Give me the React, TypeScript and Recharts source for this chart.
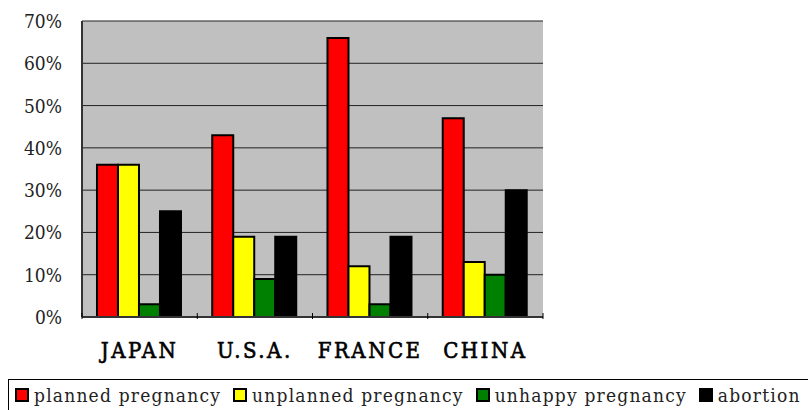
import { Bar, BarChart, CartesianGrid, XAxis, YAxis } from "recharts";

const countries = ["JAPAN", "U.S.A.", "FRANCE", "CHINA"];
const planned = [36, 43, 66, 47];
const unplanned = [36, 19, 12, 13];
const unhappy = [3, 9, 3, 10];
const abortion = [25, 19, 19, 30];
const yTicks = [0, 10, 20, 30, 40, 50, 60, 70];

const series = [
  { key: "planned", name: "planned pregnancy", color: "#ff0000" },
  { key: "unplanned", name: "unplanned pregnancy", color: "#ffff00" },
  { key: "unhappy", name: "unhappy pregnancy", color: "#008000" },
  { key: "abortion", name: "abortion", color: "#000000" },
];

const data = countries.map((c, i) => ({
  country: c,
  planned: planned[i],
  unplanned: unplanned[i],
  unhappy: unhappy[i],
  abortion: abortion[i],
}));

const serif = "'DejaVu Serif Condensed', 'DejaVu Serif', serif";

function CountryTick(props: any) {
  const { x, y, payload, index } = props;
  const off = payload.offset ?? 0;
  return (
    <g>
      <line x1={x - off} x2={x - off} y1={y - 6} y2={y} stroke="#000" />
      {index === countries.length - 1 && (
        <line x1={x + off} x2={x + off} y1={y - 6} y2={y} stroke="#000" />
      )}
      <text
        x={x}
        y={y + 39}
        textAnchor="middle"
        fontFamily={serif}
        fontSize={22}
        letterSpacing={2.5}
        stroke="#000"
        strokeWidth={0.6}
        fill="#000"
      >
        {payload.value}
      </text>
    </g>
  );
}

function PctTick(props: any) {
  const { x, y, payload } = props;
  return (
    <text x={x - 18} y={y + 7} textAnchor="end" fontFamily={serif} fontSize={19} fill="#222">
      {payload.value}%
    </text>
  );
}

function LegendBox() {
  return (
    <div
      style={{
        position: "absolute",
        left: 8,
        top: 379,
        width: 820,
        display: "flex",
        alignItems: "center",
        border: "1px solid #000",
        height: 34,
        boxSizing: "border-box",
        paddingLeft: 6,
        paddingBottom: 2,
        fontFamily: serif,
        fontSize: 19,
        letterSpacing: 1.2,
        color: "#222",
        whiteSpace: "nowrap",
      }}
    >
      {series.map((s) => (
        <span key={s.key} style={{ display: "flex", alignItems: "center", marginRight: 12 }}>
          <span
            style={{
              display: "inline-block",
              width: 10,
              height: 10,
              background: s.color,
              border: "2px solid #000",
              marginRight: 5,
            }}
          />
          {s.name}
        </span>
      ))}
    </div>
  );
}

export default function App() {
  return (
    <div style={{ position: "absolute", left: 0, top: 0, width: 808, height: 410, background: "#fff", overflow: "hidden" }}>
      <BarChart
        width={808}
        height={410}
        data={data}
        margin={{ top: 21, right: 265, bottom: 63, left: 0 }}
        barCategoryGap="13%"
        barGap={0}
      >
        <CartesianGrid vertical={false} fill="#c0c0c0" stroke="#222" />
        <XAxis
          dataKey="country"
          tickLine={false}
          tickSize={0}
          axisLine={{ stroke: "#333", strokeWidth: 2 }}
          tick={<CountryTick />}
          interval={0}
          height={30}
        />
        <YAxis
          width={82}
          domain={[0, 70]}
          ticks={yTicks}
          interval={0}
          tickLine={false}
          tickSize={0}
          axisLine={{ stroke: "#333", strokeWidth: 2 }}
          tick={<PctTick />}
        />
        <YAxis
          yAxisId="right"
          orientation="right"
          width={0}
          tick={false}
          tickLine={false}
          axisLine={{ stroke: "#808080", strokeWidth: 2 }}
        />
        {series.map((s) => (
          <Bar
            key={s.key}
            dataKey={s.key}
            name={s.name}
            fill={s.color}
            stroke="#000"
            strokeWidth={2}
            isAnimationActive={false}
          />
        ))}
      </BarChart>
      <LegendBox />
    </div>
  );
}
